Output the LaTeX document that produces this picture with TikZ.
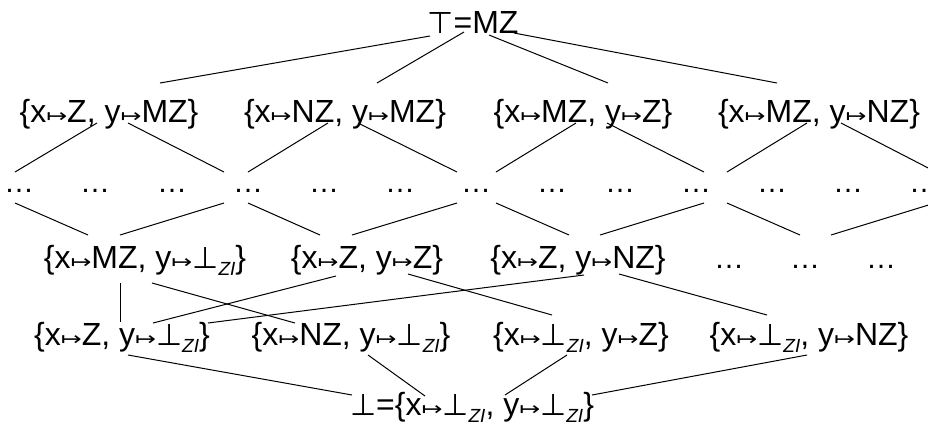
\documentclass[tikz,border=0pt]{standalone}
\usepackage{fontspec}
\usepackage{graphicx}
\setmainfont{Liberation Sans}
\newfontfamily\symfont{DejaVu Sans}
\newcommand{\mto}{\scalebox{1}[0.75]{\symfont\fontsize{12.5}{12.5}\selectfont ↦}}
\newcommand{\bsym}{{\symfont\fontsize{15}{15}\selectfont ⊥}}
\newcommand{\tsym}{{\symfont\fontsize{15}{15}\selectfont ⊤}}
\newcommand{\bt}{\bsym\raisebox{-3.5pt}{\fontsize{9.5}{9.5}\selectfont\itshape ZI}}
\begin{document}
\begin{tikzpicture}[
    x=0.5pt, y=-0.5pt,
    every node/.style={inner sep=0pt, anchor=base},
    val/.style={font=\fontsize{16}{19}\selectfont},
    gap/.style={font=\fontsize{15}{18}\selectfont},
    link/.style={draw=black, line width=0.5pt}
]
\useasboundingbox (0,0) rectangle (928,425);

% Nodes
\node[val] (top) at (473,33) {\tsym=MZ};

\node[val] (r2a) at (109,122) {\{x\mto Z, y\mto MZ\}};
\node[val] (r2b) at (345,122) {\{x\mto NZ, y\mto MZ\}};
\node[val] (r2c) at (583,122) {\{x\mto MZ, y\mto Z\}};
\node[val] (r2d) at (819,122) {\{x\mto MZ, y\mto NZ\}};

\node[gap] (d1) at (19,192) {…};
\node[gap] (d2) at (95,192) {…};
\node[gap] (d3) at (172,192) {…};
\node[gap] (d4) at (248,192) {…};
\node[gap] (d5) at (324,192) {…};
\node[gap] (d6) at (400,192) {…};
\node[gap] (d7) at (476,192) {…};
\node[gap] (d8) at (552,192) {…};
\node[gap] (d9) at (620,192) {…};
\node[gap] (d10) at (696,192) {…};
\node[gap] (d11) at (772,192) {…};
\node[gap] (d12) at (848,192) {…};
\node[gap] (d13) at (924,192) {…};

\node[val] (r4a) at (145,268) {\{x\mto MZ, y\mto\bt\}};
\node[val] (r4b) at (367,268) {\{x\mto Z, y\mto Z\}};
\node[val] (r4c) at (578,268) {\{x\mto Z, y\mto NZ\}};
\node[gap] (r4d) at (729,268) {…};
\node[gap] (r4e) at (805,268) {…};
\node[gap] (r4f) at (881,268) {…};

\node[val] (r5a) at (122,345) {\{x\mto Z, y\mto\bt\}};
\node[val] (r5b) at (351,345) {\{x\mto NZ, y\mto\bt\}};
\node[val] (r5c) at (581,345) {\{x\mto\bt, y\mto Z\}};
\node[val] (r5d) at (809,345) {\{x\mto\bt, y\mto NZ\}};

\node[val] (bot) at (472,415) {\bsym=\{x\mto\bt, y\mto\bt\}};

% Paths
\draw[link] ([shift={(-43,3)}]top.base) -- ([shift={(51,-39)}]r2a.base);
\draw[link] ([shift={(-9,-1)}]top.base) -- ([shift={(32,-39)}]r2b.base);
\draw[link] ([shift={(16,2)}]top.base) -- ([shift={(25,-39)}]r2c.base);
\draw[link] ([shift={(41,0)}]top.base) -- ([shift={(-42,-39)}]r2d.base);

\draw[link] ([shift={(-12,1)}]r2a.base) -- ([shift={(-4,-20)}]d1.base);
\draw[link] ([shift={(19,1)}]r2a.base) -- ([shift={(-24,-20)}]d4.base);
\draw[link] ([shift={(-17,1)}]r2b.base) -- ([shift={(0,-20)}]d4.base);
\draw[link] ([shift={(13,1)}]r2b.base) -- ([shift={(-19,-20)}]d7.base);
\draw[link] ([shift={(-7,1)}]r2c.base) -- ([shift={(20,-20)}]d7.base);
\draw[link] ([shift={(24,1)}]r2c.base) -- ([shift={(8,-20)}]d10.base);
\draw[link] ([shift={(-12,1)}]r2d.base) -- ([shift={(31,-20)}]d10.base);
\draw[link] ([shift={(22,1)}]r2d.base) -- ([shift={(12,-20)}]d13.base);

\draw[link] ([shift={(-4,11)}]d1.base) -- ([shift={(-57,-33)}]r4a.base);
\draw[link] ([shift={(-24,11)}]d4.base) -- ([shift={(-25,-33)}]r4a.base);
\draw[link] ([shift={(0,11)}]d4.base) -- ([shift={(-47,-33)}]r4b.base);
\draw[link] ([shift={(-19,11)}]d7.base) -- ([shift={(-15,-33)}]r4b.base);
\draw[link] ([shift={(20,11)}]d7.base) -- ([shift={(-9,-33)}]r4c.base);
\draw[link] ([shift={(8,11)}]d10.base) -- ([shift={(22,-33)}]r4c.base);
\draw[link] ([shift={(31,11)}]d10.base) -- ([shift={(-5,-33)}]r4e.base);
\draw[link] ([shift={(11,11)}]d13.base) -- ([shift={(26,-33)}]r4e.base);

\draw[link] ([shift={(-25,15)}]r4a.base) -- ([shift={(-2,-23)}]r5a.base);
\draw[link] ([shift={(7,15)}]r4a.base) -- ([shift={(-56,-22)}]r5b.base);
\draw[link] ([shift={(-31,8)}]r4b.base) -- ([shift={(31,-22)}]r5a.base);
\draw[link] ([shift={(41,6)}]r4b.base) -- ([shift={(-29,-30)}]r5c.base);
\draw[link] ([shift={(6,7)}]r4c.base) -- ([shift={(86,-22)}]r5a.base);
\draw[link] ([shift={(41,6)}]r4c.base) -- ([shift={(-42,-30)}]r5d.base);

\draw[link] ([shift={(6,10)}]r5a.base) -- ([shift={(-120,-20)}]bot.base);
\draw[link] ([shift={(17,10)}]r5b.base) -- ([shift={(-47,-19)}]bot.base);
\draw[link] ([shift={(-14,10)}]r5c.base) -- ([shift={(33,-20)}]bot.base);
\draw[link] ([shift={(-2,10)}]r5d.base) -- ([shift={(120,-20)}]bot.base);

\end{tikzpicture}
\end{document}
